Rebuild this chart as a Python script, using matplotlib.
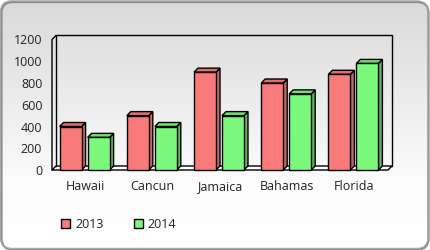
import matplotlib
matplotlib.use("Agg")
import matplotlib.pyplot as plt
import numpy as np
from matplotlib.patches import Polygon, Rectangle, FancyBboxPatch

categories = ["Hawaii", "Cancun", "Jamaica", "Bahamas", "Florida"]
series_names = ["2013", "2014"]
values_2013 = [400, 500, 900, 800, 880]
values_2014 = [300, 400, 500, 700, 980]
yticks = [0, 200, 400, 600, 800, 1000, 1200]

front_colors = ["#f87a7a", "#7cf87c"]
top_colors = ["#e46c6c", "#6ce46c"]
side_colors = ["#c06a6a", "#62b462"]

plt.rcParams['font.family'] = ['Open Sans', 'DejaVu Sans']
W, H = 430, 250
fig = plt.figure(figsize=(W / 100, H / 100), dpi=100)

# background card
bg = fig.add_axes([0, 0, 1, 1])
bg.set_xlim(0, W)
bg.set_ylim(0, H)
bg.axis("off")
shadow = FancyBboxPatch((1.5, 0.5), W - 3, H - 2.5, boxstyle="round,pad=0,rounding_size=11",
                        fc="none", ec="#8a8a8a", lw=1.6)
bg.add_patch(shadow)
card = FancyBboxPatch((0.5, 1.5), W - 2.5, H - 2.5, boxstyle="round,pad=0,rounding_size=11",
                      fc="none", ec="#a8a8a8", lw=1.0)
grad = np.linspace(0, 1, 256).reshape(-1, 1)
img = bg.imshow(grad, extent=[0, W, 0, H], aspect="auto", origin="lower",
                cmap=matplotlib.colors.LinearSegmentedColormap.from_list(
                    "g", [(0, "#ffffff"), (0.25, "#fdfdfd"), (1, "#d9d9d9")]), zorder=0)
img.set_clip_path(card)
bg.add_patch(card)

# main axes (front plane)
left_px, right_px, bottom_px, top_px = 52, 388, 170, 39.5
ax = fig.add_axes([left_px / W, 1 - bottom_px / H, (right_px - left_px) / W, (bottom_px - top_px) / H])
ax.patch.set_alpha(0)
x0, x1 = -0.5, len(categories) - 0.5
ymax = 1200
ax.set_xlim(x0, x1)
ax.set_ylim(0, ymax)
for s in ax.spines.values():
    s.set_visible(False)

ppx = (x1 - x0) / (right_px - left_px)
ppy = ymax / (bottom_px - top_px)
dx, dy = 4 * ppx, 4 * ppy

lk = dict(color="black", lw=1.0, clip_on=False, zorder=2, solid_capstyle="projecting")
# floor
ax.add_patch(Polygon([(x0, 0), (x1, 0), (x1 + dx, dy), (x0 + dx, dy)], closed=True,
                     fc="white", ec="black", lw=1.0, clip_on=False, zorder=1.5))
ax.plot([x0 + dx, x0 + dx, x1 + dx, x1 + dx], [dy, ymax + dy, ymax + dy, dy], **lk)
ax.plot([x0, x0, x0 + dx], [0, ymax, ymax + dy], **lk)

width = 22 * ppx
offsets = [-26 * ppx, 2 * ppx]
xs = np.arange(len(categories))
for si, vals in enumerate([values_2013, values_2014]):
    for i, v in enumerate(vals):
        xl = xs[i] + offsets[si]
        xr = xl + width
        ax.add_patch(Polygon([(xr, 0), (xr + dx, dy), (xr + dx, v + dy), (xr, v)], closed=True,
                             fc=side_colors[si], ec="black", lw=1.0, clip_on=False, zorder=3))
        ax.add_patch(Polygon([(xl, v), (xr, v), (xr + dx, v + dy), (xl + dx, v + dy)], closed=True,
                             fc=top_colors[si], ec="black", lw=1.0, clip_on=False, zorder=3))
        ax.add_patch(Rectangle((xl, 0), width, v, fc=front_colors[si], ec="black", lw=1.0,
                               clip_on=False, zorder=3))

ax.set_yticks(yticks)
ax.set_yticklabels([str(t) for t in yticks])
ax.set_xticks(xs)
ax.set_xticklabels(categories, va="baseline")
ax.tick_params(axis="y", length=0, pad=7, labelsize=9, labelcolor="#222222")
ax.tick_params(axis="x", length=0, pad=14.5, labelsize=9, labelcolor="#222222")

handles = [Rectangle((0, 0), 1, 1, fc=front_colors[k], ec="black", lw=1.0) for k in range(2)]
fig.legend(handles, series_names, loc="center left", bbox_to_anchor=(50 / W, 1 - 224 / H),
           ncol=2, frameon=False, handlelength=0.7, handleheight=0.7, handletextpad=0.4,
           columnspacing=2.45, fontsize=9, labelcolor="#222222")

fig.savefig("out.png", dpi=100)
